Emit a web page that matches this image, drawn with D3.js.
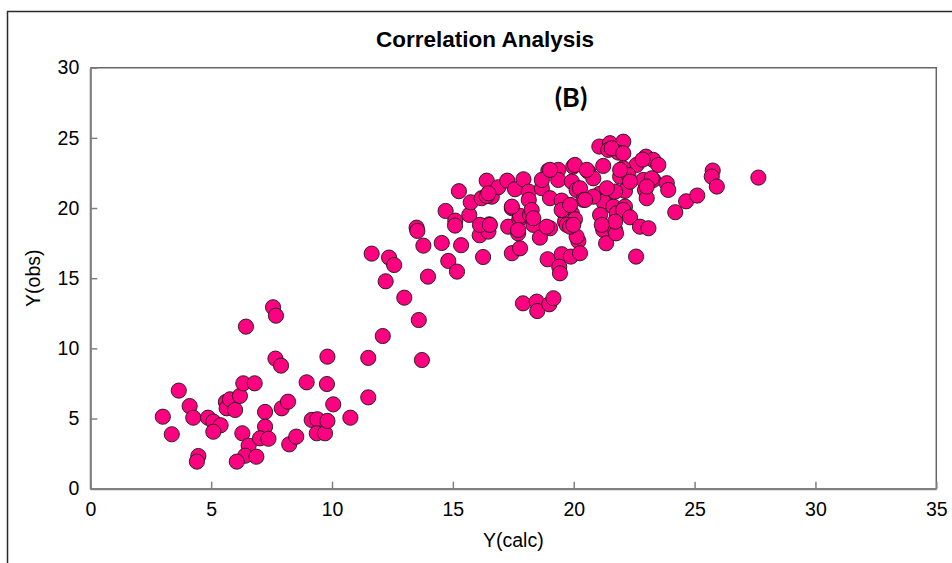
<!DOCTYPE html>
<html>
<head>
<meta charset="utf-8">
<script src="https://cdn.jsdelivr.net/npm/d3@7"></script>
<style>
  html, body { margin: 0; padding: 0; background: #fff; }
  svg { display: block; }
</style>
</head>
<body>
<svg id="chart" width="952" height="563"></svg>
<script>
// Calculated vs observed values
const yCalc = [
  3.0, 3.37, 3.66, 4.11, 4.26, 4.47, 4.41, 4.87, 5.09, 5.39, 5.09, 5.61, 5.64, 5.78, 5.99, 6.19, 6.33, 6.8,
  6.44, 7.56, 7.68, 7.66, 7.89, 6.29, 6.55, 6.41, 6.06, 6.87, 7.23, 7.23, 7.02, 7.37, 7.92, 8.18, 8.23, 8.52,
  8.95, 9.16, 9.39, 9.37, 9.71, 9.81, 9.79, 9.81, 10.05, 10.76, 11.5, 11.5, 12.1, 12.99, 13.59, 13.72, 12.22,
  11.64, 12.36, 12.57, 13.5, 13.53, 13.78, 13.97, 14.54, 14.81, 15.17, 15.34, 14.7, 15.1, 15.09, 15.68, 15.74,
  16.11, 16.25, 16.47, 16.51, 16.12, 16.61, 16.19, 17.29, 17.44, 17.75, 17.44, 17.78, 17.9,
  15.25, 16.4, 16.88, 16.4, 17.25, 17.57, 17.92, 18.14, 18.14, 17.78, 18.19, 18.33, 18.68, 18.95, 19.36, 19.36,
  19.02, 19.5, 19.57, 19.92, 19.98, 19.92, 20.12, 19.64, 19.02,
  21.06, 21.5, 22.05, 21.43, 21.85, 22.99, 23.29, 22.6, 20.05, 21.22, 22.05, 20.6, 20.81, 21.92, 22.26, 22.88,
  23.29, 23.85, 23.91, 20.26, 21.06, 21.43, 22.12, 22.95, 23.02, 24.65, 20.4, 21.22, 21.64, 22.12, 21.09, 21.78,
  22.05, 22.33, 24.2, 20.05, 21.22, 21.71, 22.74, 23.09,
  18.6, 18.92, 19.5, 19.88, 20.19, 20.26, 19.4, 19.43, 18.47, 18.49, 18.99, 19.16, 21.34, 21.75, 22.58, 19.71, 17.7,
  23.5, 25.11, 25.75, 25.71, 25.92, 27.64,
  22.85, 20.81, 19.5, 21.71, 18.88, 20.12, 22.33, 21.71,
  18.26, 18.33, 17.7, 17.44, 16.47, 16.53, 18.68, 19.85, 19.85, 19.02, 21.57, 22.05, 20.54, 21.92, 23.23, 23.02,
  21.37, 20.47, 19.98, 21.16
];
const yObs = [
  5.13, 3.88, 6.99, 5.89, 5.06, 2.33, 1.93, 5.06, 4.78, 4.52, 4.06, 6.18, 5.73, 6.37, 5.61, 6.61, 7.51, 7.51,
  11.55, 12.93, 12.33, 9.27, 8.77, 3.95, 3.07, 2.35, 1.93, 2.28, 5.47, 4.42, 3.59, 3.56, 5.73, 6.2, 3.16, 3.71,
  7.58, 4.9, 4.95, 3.95, 3.95, 4.83, 7.46, 9.41, 6.01, 5.06, 9.32, 6.51, 10.88, 13.61, 12.02, 9.17, 14.78,
  16.75, 16.47, 15.94, 18.6, 18.37, 17.32, 15.11, 17.51, 16.23, 15.47, 17.35, 19.79, 19.1, 18.75, 19.51, 20.41,
  18.06, 16.51, 18.32, 18.84, 18.8, 20.81, 20.7, 18.67, 19.99, 19.22, 16.78, 17.13, 13.21,
  21.2, 21.95, 21.48, 20.86, 21.95, 21.34, 22.05, 21.17, 20.58, 19.44, 19.51, 18.8, 21.41, 22.67, 22.72, 22.0,
  20.7, 20.53, 19.74, 19.63, 22.95, 21.88, 21.29, 19.03, 18.56,
  24.38, 24.62, 24.73, 24.14, 23.95, 23.66, 23.43, 23.07, 23.07, 23.0, 22.84, 22.6, 22.12, 22.24, 22.36, 22.0,
  22.0, 21.77, 21.29, 21.41, 21.0, 21.17, 21.22, 21.29, 20.7, 20.48, 20.58, 20.46, 20.1, 20.1, 19.51, 19.63,
  19.86, 19.34, 19.7, 19.2, 18.44, 18.44, 18.67, 18.56,
  17.89, 16.35, 16.71, 16.54, 17.65, 16.78, 15.82, 15.35, 13.33, 12.66, 13.14, 13.57, 17.49, 18.2, 16.54, 18.8, 18.2,
  23.07, 20.89, 22.67, 22.24, 21.53, 22.17,
  23.45, 20.81, 19.86, 19.03, 18.67, 17.96, 21.88, 21.17,
  19.86, 19.27, 18.44, 20.1, 21.05, 18.8, 22.0, 20.22, 18.67, 22.72, 24.26, 23.9, 22.72, 22.72, 22.12, 21.53,
  21.41, 20.58, 18.8, 18.8
];
const xTicks = [0, 5, 10, 15, 20, 25, 30, 35];
const yTicks = [0, 5, 10, 15, 20, 25, 30];

const points = yCalc.map((v, i) => ({ calc: v, obs: yObs[i] }));

const svg = d3.select("#chart");
const plotLeft = 90.3, plotRight = 936.3, plotTop = 67.7, plotBottom = 488.7;

const x = d3.scaleLinear().domain([0, 35]).range([plotLeft, plotRight]);
const y = d3.scaleLinear().domain([0, 30]).range([plotBottom, plotTop]);

// outer frame
svg.append("rect")
  .attr("x", 7.5).attr("y", 11.5)
  .attr("width", 1000).attr("height", 700)
  .attr("fill", "none").attr("stroke", "#2a2a2a").attr("stroke-width", 1.5);

// title
svg.append("text")
  .attr("x", 485).attr("y", 47)
  .attr("text-anchor", "middle")
  .style("font-family", "Liberation Sans, Arial, sans-serif")
  .style("font-weight", "bold").style("font-size", "22.5px")
  .text("Correlation Analysis");

// plot frame (top and right)
svg.append("path")
  .attr("d", `M${plotLeft},${plotTop}H${plotRight}V${plotBottom}`)
  .attr("fill", "none").attr("stroke", "#666").attr("stroke-width", 1.5);

const tickFont = g => g.selectAll("text")
  .style("font-family", "Liberation Sans, Arial, sans-serif")
  .style("font-size", "19.5px").attr("fill", "#000");

const xAxis = d3.axisBottom(x).tickValues(xTicks).tickFormat(d3.format("d"))
  .tickSizeInner(-7).tickSizeOuter(0).tickPadding(13);
const yAxis = d3.axisLeft(y).tickValues(yTicks).tickFormat(d3.format("d"))
  .tickSizeInner(-7).tickSizeOuter(0).tickPadding(11);

const gx = svg.append("g").attr("transform", `translate(0,${plotBottom})`).call(xAxis);
const gy = svg.append("g").attr("transform", `translate(${plotLeft},0)`).call(yAxis);
[gx, gy].forEach(g => {
  g.select(".domain").attr("stroke", "#808080").attr("stroke-width", 2.2);
  g.selectAll(".tick line").attr("stroke", "#808080").attr("stroke-width", 1.5);
  g.call(tickFont);
});

// axis titles
svg.append("text")
  .attr("x", (plotLeft + plotRight) / 2).attr("y", 547)
  .attr("text-anchor", "middle")
  .style("font-family", "Liberation Sans, Arial, sans-serif").style("font-size", "19.5px")
  .text("Y(calc)");
svg.append("text")
  .attr("transform", `translate(40,${(plotTop + plotBottom) / 2}) rotate(-90)`)
  .attr("text-anchor", "middle")
  .style("font-family", "Liberation Sans, Arial, sans-serif").style("font-size", "19.5px")
  .text("Y(obs)");

// panel label
svg.append("text")
  .attr("x", 571).attr("y", 107)
  .attr("text-anchor", "middle")
  .style("font-family", "Lato, sans-serif")
  .style("font-weight", "bold").style("font-size", "27px")
  .text("(B)");

// scatter markers
svg.append("g").selectAll("circle")
  .data(points)
  .join("circle")
  .attr("cx", d => x(d.calc))
  .attr("cy", d => y(d.obs))
  .attr("r", 7.6)
  .attr("fill", "#ff0080")
  .attr("stroke", "#1a1a1a")
  .attr("stroke-width", 0.9);
</script>
</body>
</html>
